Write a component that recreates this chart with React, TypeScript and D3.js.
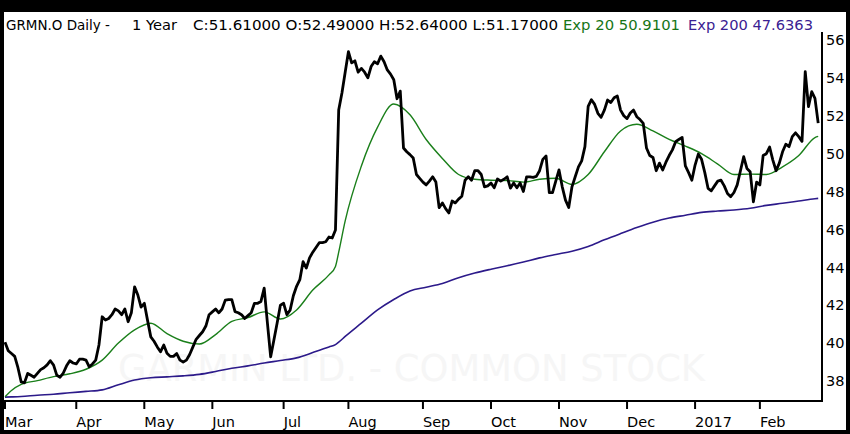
import * as d3 from 'd3';

// GRMN.O daily closes, Mar 1 2016 .. Feb 28 2017 (one value per trading day)
const closes = [
  40.05, 39.6, 39.45, 39.3, 38.7, 37.95, 37.9, 38.4, 38.3, 38.2,
  38.4, 38.6, 38.7, 38.85, 39.07, 38.84, 38.3, 38.2, 38.42, 38.8,
  39.07, 38.95, 38.9, 39.15, 39.15, 39.1, 38.75, 38.9, 39.1, 39.9,
  41.39, 41.22, 41.3, 41.5, 41.8, 41.7, 41.5, 41.8, 41.13, 41.6,
  42.97, 42.54, 41.9, 42.1, 41.2, 40.33, 40.1, 39.8, 39.54, 39.9,
  39.47, 39.3, 39.3, 39.45, 39.1, 39.0, 39.1, 39.4, 39.8, 40.2,
  40.4, 40.6, 40.9, 41.5, 41.65, 41.8, 41.6, 41.8, 42.27, 42.3,
  42.3, 41.66, 41.6, 41.5, 41.3, 41.45, 41.6, 42.1, 42.1, 42.2,
  42.9, 41.06, 39.28, 40.16, 41.06, 42.0, 42.1, 41.5, 41.74, 42.5,
  43.0, 43.35, 44.3, 43.96, 44.5, 44.8, 45.05, 45.3, 45.3, 45.35,
  45.6, 45.55, 45.97, 52.3, 53.2, 54.3, 55.38, 54.79, 54.9, 54.3,
  54.5, 54.3, 54.0, 54.6, 54.85, 54.75, 55.15, 54.85, 54.42, 54.2,
  53.9, 52.9, 53.3, 50.3, 50.1, 49.95, 49.77, 48.9, 48.7, 48.5,
  48.35, 48.55, 48.78, 48.5, 47.15, 47.4, 47.1, 46.87, 47.5, 47.4,
  47.6, 47.75, 48.6, 48.78, 48.6, 49.1, 49.1, 48.9, 48.25, 48.3,
  48.45, 48.2, 48.66, 48.55, 48.65, 48.78, 48.18, 48.45, 48.2, 48.45,
  48.0, 48.78, 48.78, 48.75, 48.8, 49.1, 49.7, 49.88, 47.94, 47.94,
  48.55, 49.14, 48.25, 47.55, 47.16, 48.25, 48.78, 49.3, 49.62, 50.37,
  52.5, 52.85, 52.6, 52.13, 51.92, 52.3, 52.83, 52.7, 52.95, 53.04,
  52.3, 52.0, 51.85, 52.15, 52.3, 51.95, 51.8, 51.6, 50.3, 49.9,
  49.8, 49.1, 49.5, 49.14, 49.55, 49.9, 50.2, 50.63, 50.75, 50.86,
  49.35, 49.0, 48.6, 49.4, 49.98, 49.7, 49.0, 48.17, 48.04, 48.3,
  48.55, 48.6, 48.3, 47.9, 47.73, 47.95, 48.35, 49.1, 49.84, 49.22,
  49.05, 47.46, 48.5, 48.35, 49.9, 50.0, 50.35, 49.66, 49.1, 49.5,
  50.1, 50.5, 50.37, 50.9, 51.1, 50.9, 50.65, 54.33, 52.48, 53.27,
  52.92, 51.61,
];

// trading-day index of each moving-average reading
const emaDays = [
  0, 2, 5, 10, 15, 20, 25, 30, 35, 40, 45, 50, 55, 60, 65, 70, 75, 80, 85, 90,
  95, 100, 102, 103, 105, 110, 115, 120, 125, 130, 135, 140, 145, 150, 155, 160,
  165, 170, 175, 180, 185, 190, 195, 200, 205, 210, 215, 220, 225, 230, 235, 240,
  245, 250, 251,
];
const ema20 = [
  37.17, 37.5, 37.82, 38.02, 38.23, 38.38, 38.62, 39.1, 40.0, 40.7, 41.05, 40.5,
  40.1, 39.95, 40.45, 41.15, 41.35, 41.65, 41.27, 41.75, 42.8, 43.6, 44.05, 44.8,
  46.45, 49.35, 51.4, 52.62, 52.05, 50.75, 49.75, 48.9, 48.65, 48.6, 48.58, 48.5,
  48.65, 48.7, 48.38, 48.9, 50.1, 51.2, 51.55, 51.2, 50.75, 50.4, 50.0, 49.45,
  48.9, 48.92, 48.9, 49.3, 49.9, 50.85, 50.91,
];
const ema200 = [
  37.15, 37.16, 37.18, 37.25, 37.3, 37.38, 37.45, 37.53, 37.8, 38.05, 38.17, 38.22,
  38.27, 38.35, 38.5, 38.67, 38.8, 38.95, 39.08, 39.22, 39.5, 39.8, 39.92, 40.05,
  40.35, 41.05, 41.75, 42.3, 42.75, 42.95, 43.15, 43.45, 43.7, 43.9, 44.08, 44.28,
  44.5, 44.68, 44.85, 45.1, 45.45, 45.78, 46.1, 46.38, 46.6, 46.75, 46.9, 46.97,
  47.03, 47.12, 47.27, 47.38, 47.5, 47.62, 47.64,
];

const monthStarts = [0, 22, 43, 64, 86, 106, 129, 150, 171, 192, 213, 233];
const monthLabels = ['Mar', 'Apr', 'May', 'Jun', 'Jul', 'Aug', 'Sep', 'Oct', 'Nov', 'Dec', '2017', 'Feb'];
const priceTicks = [38, 40, 42, 44, 46, 48, 50, 52, 54, 56];

const headerParts = ['GRMN.O Daily -', '1 Year', 'C:51.61000 O:52.49000 H:52.64000 L:51.17000'];
const ema20Label = 'Exp 20 50.9101';
const ema200Label = 'Exp 200 47.6363';
const watermark = 'GARMIN LTD. - COMMON STOCK';

const W = 850;
const H = 434;
const FONT = '"DejaVu Sans", Verdana, sans-serif';

export default function App() {
  const plot = { left: 4, right: 822, top: 32, bottom: 401 };

  const x = d3.scaleLinear().domain([0, closes.length - 1]).range([5, 818.2]);
  const y = d3.scaleLinear().domain([38, 56]).range([381, 40]);

  const closeLine = d3.line<number>()
    .x((_, i) => x(i))
    .y((d) => y(d));

  const emaLine = (vals: number[]) =>
    d3.line<number>()
      .x((_, i) => x(emaDays[i]))
      .y((d) => y(d))
      .curve(d3.curveMonotoneX)(vals) as string;

  // header segments: x start and width from the reference
  const headerPos = [
    { x: 6, len: 104 },
    { x: 132, len: 45 },
    { x: 193, len: 365 },
  ];

  return (
    <svg width={W} height={H} style={{ position: 'absolute', left: 0, top: 0 }} fontFamily={FONT}>
      <defs>
        <clipPath id="plot-clip">
          <rect x={plot.left} y={plot.top} width={plot.right - plot.left} height={plot.bottom - plot.top} />
        </clipPath>
      </defs>

      {/* black frame */}
      <rect x={0} y={0} width={W} height={H} fill="#000" />
      <rect x={4} y={12} width={842} height={418} fill="#fff" />

      {/* watermark */}
      <text x={118} y={381} fontSize={37} fill="#f6f6f6" textLength={587} lengthAdjust="spacingAndGlyphs">
        {watermark}
      </text>

      {/* header */}
      {headerParts.map((t, i) => (
        <text key={t} x={headerPos[i].x} y={30} fontSize={14.5} fill="#000"
          textLength={headerPos[i].len} lengthAdjust="spacingAndGlyphs">
          {t}
        </text>
      ))}
      <text x={563} y={30} fontSize={14.5} fill="#167516" textLength={117} lengthAdjust="spacingAndGlyphs">
        {ema20Label}
      </text>
      <text x={688} y={30} fontSize={14.5} fill="#3a2192" textLength={125} lengthAdjust="spacingAndGlyphs">
        {ema200Label}
      </text>

      {/* series */}
      <g clipPath="url(#plot-clip)" fill="none">
        <path d={emaLine(ema200)} stroke="#2c1a8a" strokeWidth={1.6} />
        <path d={emaLine(ema20)} stroke="#1a7f1a" strokeWidth={1.4} />
        <path d={closeLine(closes) as string} stroke="#000" strokeWidth={2.8} strokeLinejoin="round" />
      </g>

      {/* right price axis */}
      <line x1={plot.right} x2={plot.right} y1={plot.top} y2={plot.bottom + 1} stroke="#000" strokeWidth={2} />
      {priceTicks.map((t) => (
        <text key={t} x={plot.right + 4} y={y(t)} dy="0.36em" fontSize={14.5} fill="#000">
          {t}
        </text>
      ))}

      {/* bottom date axis */}
      <line x1={plot.left} x2={plot.right + 1} y1={plot.bottom} y2={plot.bottom} stroke="#000" strokeWidth={2} />
      {monthStarts.map((d, i) => (
        <g key={monthLabels[i]}>
          <line x1={x(d)} x2={x(d)} y1={plot.bottom} y2={plot.bottom + 8} stroke="#000" strokeWidth={2} />
          <text x={x(d)} y={427} fontSize={14.5} fill="#000">
            {monthLabels[i]}
          </text>
        </g>
      ))}
    </svg>
  );
}
